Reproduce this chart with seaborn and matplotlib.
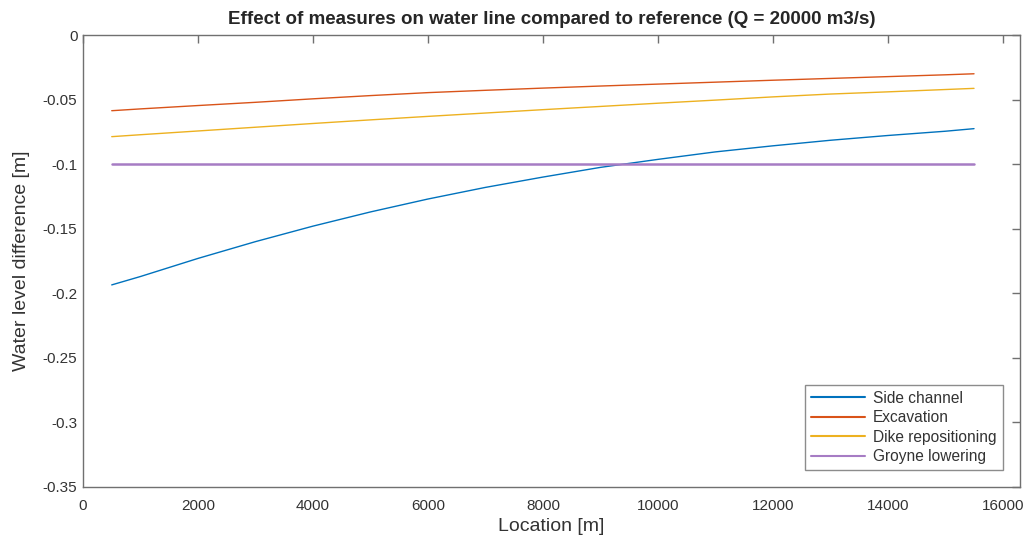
import numpy as np
import pandas as pd
import matplotlib
matplotlib.use("Agg")
import matplotlib.pyplot as plt
import seaborn as sns
from matplotlib.ticker import FuncFormatter

location = [500, 1000, 2000, 3000, 4000, 5000, 6000, 7000, 8000,
            9000, 10000, 11000, 12000, 13000, 14000, 15000, 15500]
side_channel = [-0.1935, -0.187, -0.173, -0.160, -0.148, -0.137, -0.127, -0.118, -0.110,
                -0.1025, -0.0963, -0.0905, -0.0858, -0.0815, -0.0778, -0.0745, -0.0725]
excavation = [-0.0586, -0.0572, -0.0546, -0.0521, -0.0494, -0.0469, -0.0446, -0.0428, -0.0411,
              -0.0395, -0.0380, -0.0365, -0.0350, -0.0336, -0.0322, -0.0308, -0.0300]
dike_repositioning = [-0.0787, -0.0772, -0.0743, -0.0714, -0.0685, -0.0657, -0.0630, -0.0604, -0.0578,
                      -0.0553, -0.0528, -0.0504, -0.0479, -0.0457, -0.0440, -0.0422, -0.0413]
groyne_lowering = [-0.1] * len(location)

labels = ["Side channel", "Excavation", "Dike repositioning", "Groyne lowering"]
series = [side_channel, excavation, dike_repositioning, groyne_lowering]
colors = ["#0072BD", "#D95319", "#EDB120", "#A67CC4"]

df = pd.concat([pd.DataFrame({"Location": location, "diff": s, "measure": lab})
                for lab, s in zip(labels, series)], ignore_index=True)

sns.set_style("white")
plt.rcParams["font.family"] = ["Liberation Sans", "DejaVu Sans"]

fig = plt.figure(figsize=(10.27, 5.39), dpi=100)
ax = fig.add_axes([0.0808, 0.0965, 0.9124, 0.8385])

sns.lineplot(data=df, x="Location", y="diff", hue="measure", palette=colors,
             hue_order=labels, ax=ax, linewidth=1.0)
ax.lines[3].set_linewidth(1.8)  # groyne lowering drawn a bit thicker

ax.set_xlim(0, 16300)
ax.set_ylim(-0.35, 0)
ax.set_xticks(np.arange(0, 16001, 2000))
ax.set_yticks(np.arange(-0.35, 0.001, 0.05))
ax.yaxis.set_major_formatter(FuncFormatter(lambda v, p: "%g" % (round(v, 2) + 0.0)))

gray = "#707070"
for sp in ax.spines.values():
    sp.set_color(gray)
    sp.set_linewidth(1.0)
ax.tick_params(direction="in", length=6, width=1, color=gray, labelcolor="#333333",
               labelsize=11, top=True, right=True, pad=4)
ax.tick_params(axis="x", pad=9)

ax.set_xlabel("Location [m]", fontsize=14, color="#333333", labelpad=3)
ax.set_ylabel("Water level difference [m]", fontsize=14, color="#333333", labelpad=9)
ax.set_title("Effect of measures on water line compared to reference (Q = 20000 m3/s)",
             fontsize=13.5, fontweight="bold", pad=8)

leg = ax.legend(loc="lower right", bbox_to_anchor=(0.99, 0.02), fontsize=11.2,
                frameon=True, fancybox=False, handlelength=3.5, borderpad=0.4,
                labelspacing=0.28, handletextpad=0.5)
leg.get_frame().set_edgecolor(gray)
leg.get_frame().set_linewidth(1.0)
for t in leg.get_texts():
    t.set_color("#333333")
for h in leg.get_lines():
    h.set_linewidth(1.5)

fig.savefig("out.png", dpi=100)
